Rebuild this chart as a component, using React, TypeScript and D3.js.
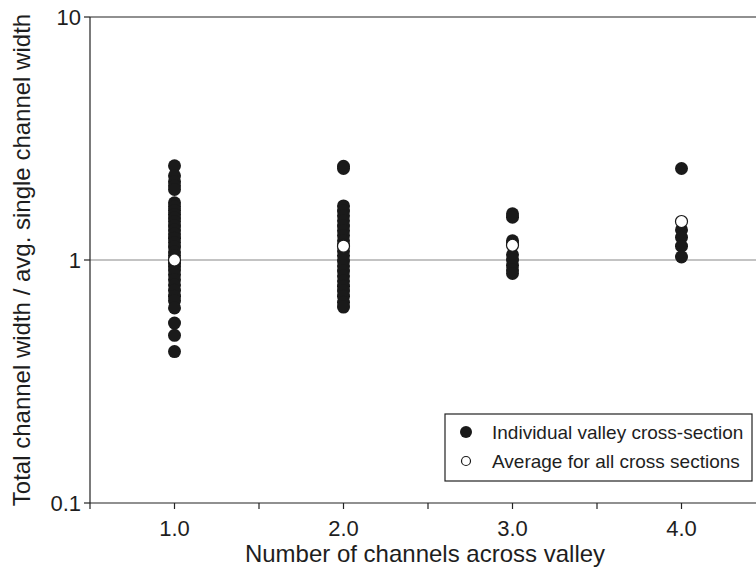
import * as d3 from "d3";

const W = 756, H = 567;
const margin = { left: 90, top: 17, right: 0, bottom: 64 };

// number of channels -> ratio values
const channels = [1, 2, 3, 4];
const individual: number[][] = [
  [2.44, 2.22, 2.1, 2.02, 1.95, 1.72, 1.66, 1.6, 1.54, 1.49, 1.44, 1.38, 1.33, 1.28, 1.23, 1.18, 1.13, 1.08, 1.04, 1.0, 0.97,
   0.94, 0.91, 0.87, 0.83, 0.79, 0.75, 0.71, 0.68, 0.635, 0.55, 0.49, 0.42],
  [2.43, 2.38, 1.67, 1.59, 1.52, 1.45, 1.38, 1.32, 1.26, 1.2, 1.15, 1.09, 1.04, 0.99, 0.945, 0.9, 0.86, 0.82, 0.78,
   0.745, 0.71, 0.67, 0.64],
  [1.55, 1.5, 1.2, 1.17, 1.05, 1.0, 0.95, 0.91, 0.88],
  [2.38, 1.33, 1.24, 1.14, 1.03],
];
const averages = [1.0, 1.14, 1.15, 1.44];
const xTicks = [0.5, 1, 1.5, 2, 2.5, 3, 3.5, 4];
const xLabels = [1, 2, 3, 4];
const yTicks = [0.1, 1, 10];
const legendItems = ["Individual valley cross-section", "Average for all cross sections"];

export default function App() {
  const x = d3.scaleLinear().domain([0.5, 0.5 + (W - margin.left) / 169]).range([margin.left, W - margin.right]);
  const y = d3.scaleLog().domain([0.1, 10]).range([H - margin.bottom, margin.top]);
  const font = "'Liberation Sans', Arial, sans-serif";
  const axisColor = "#222";
  const textColor = "#1e1e1e";
  const r = 6.5;
  const bottom = y(0.1);

  return (
    <svg width={W} height={H} style={{ position: "absolute", left: 0, top: 0 }} fontFamily={font}>
      <rect width={W} height={H} fill="#fff" />
      {/* reference line at 1 */}
      <line x1={margin.left} x2={W} y1={y(1)} y2={y(1)} stroke="#888" strokeWidth={1.2} />
      {/* top border */}
      <line x1={margin.left} x2={W} y1={y(10)} y2={y(10)} stroke={axisColor} strokeWidth={1.2} />
      {/* axes */}
      <line x1={margin.left} x2={margin.left} y1={y(10)} y2={bottom} stroke={axisColor} strokeWidth={1.2} />
      <line x1={margin.left} x2={W} y1={bottom} y2={bottom} stroke={axisColor} strokeWidth={1.2} />
      {yTicks.map((t) => (
        <g key={t}>
          <line x1={margin.left - 6} x2={margin.left} y1={y(t)} y2={y(t)} stroke={axisColor} strokeWidth={1.2} />
          <text x={margin.left - 9} y={y(t)} dy="0.36em" textAnchor="end" fontSize={22} fill={textColor}>
            {t}
          </text>
        </g>
      ))}
      {xTicks.map((t) => (
        <line key={t} x1={x(t)} x2={x(t)} y1={bottom} y2={bottom + 6} stroke={axisColor} strokeWidth={1.2} />
      ))}
      {xLabels.map((t) => (
        <text key={t} x={x(t)} y={bottom + 33} textAnchor="middle" fontSize={22} fill={textColor}>
          {d3.format(".1f")(t)}
        </text>
      ))}
      <text x={425} y={H - 5} textAnchor="middle" fontSize={24} fill={textColor}>
        Number of channels across valley
      </text>
      <text transform={`translate(30,${y(1)}) rotate(-90)`} textAnchor="middle" fontSize={24} fill={textColor}>
        Total channel width / avg. single channel width
      </text>
      {/* individual points */}
      {channels.map((c, i) =>
        individual[i].map((v, j) => (
          <circle key={`${i}-${j}`} cx={x(c)} cy={y(v)} r={r} fill="#1a1a1a" />
        ))
      )}
      {/* averages */}
      {channels.map((c, i) => (
        <circle key={`a${i}`} cx={x(c)} cy={y(averages[i])} r={r - 0.5} fill="#fff" stroke="#1a1a1a" strokeWidth={1.2} />
      ))}
      {/* legend */}
      <g>
        <rect x={445} y={414} width={307} height={67} fill="#fff" stroke={axisColor} strokeWidth={1.2} />
        <circle cx={466} cy={432} r={6} fill="#1a1a1a" />
        <circle cx={466} cy={461} r={4.5} fill="#fff" stroke="#1a1a1a" strokeWidth={1.2} />
        {legendItems.map((s, i) => (
          <text key={s} x={492} y={432 + i * 29} dy="0.36em" fontSize={19} fill={textColor}>
            {s}
          </text>
        ))}
      </g>
    </svg>
  );
}
